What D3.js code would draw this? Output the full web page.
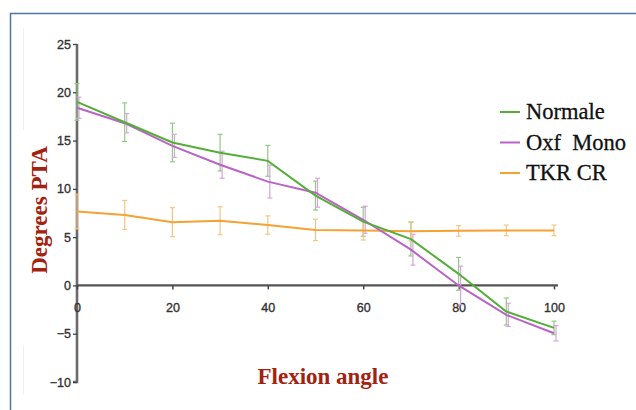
<!DOCTYPE html>
<html><head><meta charset="utf-8">
<script src="https://cdn.jsdelivr.net/npm/d3@7"></script>
<style>html,body{margin:0;padding:0;background:#fff;}svg{display:block;}</style>
</head><body>
<svg id="chart" width="636" height="410"></svg>
<script>
const angles = [0,10,20,30,40,50,60,70,80,90,100];
const seriesNames = ["Normale","Oxf  Mono","TKR CR"];
const normale = [19.0,16.9,14.8,13.75,12.9,9.3,6.6,4.8,1.2,-2.7,-4.4];
const normaleErr = [1.9,2.0,2.0,1.9,1.6,1.5,1.5,1.75,1.7,1.4,0.7];
const oxfMono = [18.4,16.8,14.45,12.5,10.75,9.6,6.8,3.7,0.0,-3.05,-4.95];
const oxfMonoErr = [1.1,1.0,1.2,1.4,1.7,1.5,1.4,1.6,2.0,1.2,0.8];
const tkrCr = [7.65,7.3,6.55,6.7,6.25,5.75,5.7,5.6,5.65,5.7,5.7];
const tkrCrErr = [1.8,1.5,1.5,1.45,0.95,1.1,1.0,1.0,0.55,0.55,0.55];
const yTicks = [-10,-5,0,5,10,15,20,25];
const xTicks = [0,20,40,60,80,100];

const lineColors = ["#55ad3a","#b963c6","#f4a233"];
const errColors = ["#93c984","#d8a3df","#f7c488"];

const svg = d3.select("#chart");
// frame
svg.append("path").attr("d","M10.5,410 L10.5,13.5 L636,13.5")
  .attr("fill","none").attr("stroke","#4f73a3").attr("stroke-width",1.5);
svg.append("path").attr("d","M23.5,28 V130 M23.5,345 V395")
  .attr("fill","none").attr("stroke","#f0f0f0").attr("stroke-width",1);

const x = d3.scaleLinear().domain([0,100]).range([77,554]);
const y = d3.scaleLinear().domain([-10,25]).range([382,44]);

const data = [
  {vals:normale, err:normaleErr},
  {vals:oxfMono, err:oxfMonoErr},
  {vals:tkrCr, err:tkrCrErr}
];

const tickFont = "Liberation Sans, Arial, sans-serif";
// y axis
const yAxis = svg.append("g").attr("transform","translate(77,0)")
  .call(d3.axisLeft(y).tickValues(yTicks).tickSize(4).tickPadding(2));
yAxis.select(".domain").attr("stroke","#6a6a6a").attr("stroke-width",2.6).attr("d","M0,44 V382 H-4");
yAxis.selectAll(".tick line").attr("stroke","#444").attr("stroke-width",1.3);
yAxis.selectAll("text").attr("font-family",tickFont).attr("font-size",12.5).attr("fill","#333")
  .attr("stroke","#333").attr("stroke-width",0.35);

// x axis at y=0
const xAxis = svg.append("g").attr("transform",`translate(0,${y(0)})`)
  .call(d3.axisBottom(x).tickValues(xTicks).tickSize(4).tickPadding(14));
xAxis.select(".domain").attr("stroke","#555").attr("stroke-width",2.2).attr("d",`M77,0 H${x(100)+4}`);
xAxis.selectAll(".tick line").attr("stroke","#444").attr("stroke-width",1.5);
xAxis.selectAll("text").attr("font-family",tickFont).attr("font-size",12.5).attr("fill","#333")
  .attr("stroke","#333").attr("stroke-width",0.35);

// error bars
data.forEach((s,i)=>{
  const g = svg.append("g").attr("stroke",errColors[i]).attr("stroke-width",1.2).attr("fill","none");
  s.vals.forEach((v,j)=>{
    const off = i===1 ? 2 : 0;
    const cx = x(angles[j])+off;
    const t = y(v+s.err[j]), b = y(v-s.err[j]);
    g.append("line").attr("x1",cx).attr("x2",cx).attr("y1",t).attr("y2",b);
    g.append("line").attr("x1",cx-2.5).attr("x2",cx+2.5).attr("y1",t).attr("y2",t);
    g.append("line").attr("x1",cx-2.5).attr("x2",cx+2.5).attr("y1",b).attr("y2",b);
  });
});

// lines
const line = d3.line().x((d,j)=>x(angles[j])).y(d=>y(d));
[2,1,0].forEach(i=>{
  svg.append("path").datum(data[i].vals).attr("d",line)
    .attr("fill","none").attr("stroke",lineColors[i]).attr("stroke-width",2);
});

// legend
const leg = svg.append("g");
seriesNames.forEach((n,i)=>{
  const ly = 112 + i*30.5;
  leg.append("line").attr("x1",500).attr("x2",520).attr("y1",ly).attr("y2",ly)
    .attr("stroke",lineColors[i]).attr("stroke-width",2);
  leg.append("text").attr("x",526).attr("y",ly+7).text(n)
    .attr("font-family","Liberation Serif, Times New Roman, serif").attr("font-size",22.5)
    .attr("fill","#111").attr("stroke","#111").attr("stroke-width",0.3).style("white-space","pre");
});

// axis titles
svg.append("text").attr("x",323).attr("y",384).attr("text-anchor","middle")
  .attr("font-family","Liberation Serif, Times New Roman, serif").attr("font-weight","bold")
  .attr("font-size",23).attr("fill","#a3210f").text("Flexion angle");
svg.append("text").attr("transform","translate(47,210) rotate(-90)").attr("text-anchor","middle")
  .attr("font-family","Liberation Serif, Times New Roman, serif").attr("font-weight","bold")
  .attr("font-size",23).attr("fill","#a3210f").text("Degrees PTA");
</script>
</body></html>
